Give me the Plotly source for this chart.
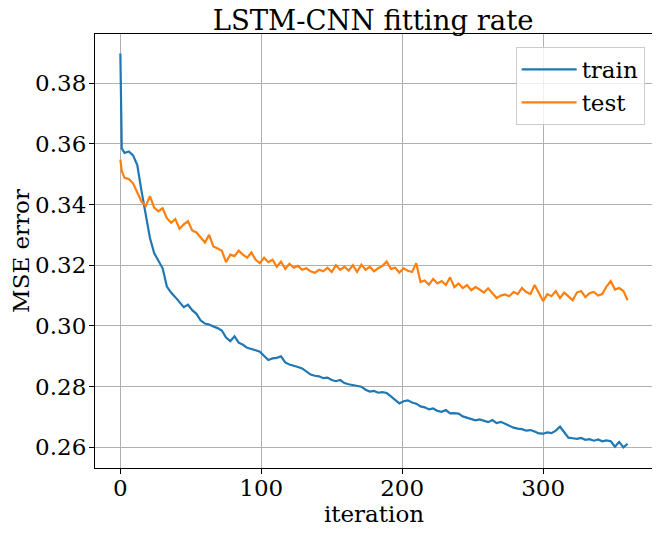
import plotly.graph_objects as go

# iterations sampled from the plot (first two kept for the initial drop)
iteration = [0, 1] + list(range(3, 361, 3))

train = [
    0.3898, 0.3585, 0.3570, 0.3575, 0.3562, 0.3530, 0.3445, 0.3362, 0.3290, 0.3240,
    0.3215, 0.3190, 0.3130, 0.3110, 0.3095, 0.3078, 0.3062, 0.3070, 0.3052, 0.3040,
    0.3018, 0.3008, 0.3005, 0.2998, 0.2993, 0.2985, 0.2962, 0.2950, 0.2966, 0.2945,
    0.2938, 0.2928, 0.2925, 0.2920, 0.2915, 0.2900, 0.2888, 0.2893, 0.2895, 0.2900,
    0.2880, 0.2873, 0.2870, 0.2865, 0.2860, 0.2850, 0.2840, 0.2836, 0.2834, 0.2828,
    0.2830, 0.2822, 0.2818, 0.2822, 0.2812, 0.2808, 0.2806, 0.2803, 0.2800, 0.2790,
    0.2784, 0.2786, 0.2780, 0.2782, 0.2779, 0.2768, 0.2758, 0.2745, 0.2752, 0.2755,
    0.2748, 0.2744, 0.2735, 0.2732, 0.2725, 0.2728, 0.2720, 0.2717, 0.2723, 0.2712,
    0.2713, 0.2711, 0.2702, 0.2698, 0.2693, 0.2689, 0.2692, 0.2688, 0.2683, 0.2690,
    0.2680, 0.2684, 0.2678, 0.2670, 0.2665, 0.2662, 0.2660, 0.2655, 0.2657, 0.2652,
    0.2646, 0.2645, 0.2649, 0.2647, 0.2655, 0.2668, 0.2650, 0.2632, 0.2630, 0.2628,
    0.2631, 0.2625, 0.2627, 0.2622, 0.2626, 0.2620, 0.2623, 0.2620, 0.2602, 0.2618,
    0.2600, 0.2612,
]

test = [
    0.3548, 0.3510, 0.3488, 0.3484, 0.3470, 0.3440, 0.3410, 0.3395, 0.3428, 0.3390,
    0.3378, 0.3388, 0.3355, 0.3340, 0.3352, 0.3320, 0.3335, 0.3345, 0.3315, 0.3308,
    0.3290, 0.3275, 0.3300, 0.3262, 0.3255, 0.3248, 0.3210, 0.3235, 0.3230, 0.3248,
    0.3235, 0.3225, 0.3242, 0.3218, 0.3207, 0.3225, 0.3210, 0.3218, 0.3195, 0.3212,
    0.3188, 0.3205, 0.3192, 0.3198, 0.3185, 0.3190, 0.3180, 0.3175, 0.3185, 0.3180,
    0.3192, 0.3178, 0.3200, 0.3185, 0.3195, 0.3182, 0.3200, 0.3178, 0.3202, 0.3185,
    0.3195, 0.3180, 0.3190, 0.3198, 0.3212, 0.3188, 0.3192, 0.3176, 0.3190, 0.3182,
    0.3178, 0.3207, 0.3145, 0.3150, 0.3136, 0.3155, 0.3140, 0.3148, 0.3135, 0.3160,
    0.3128, 0.3140, 0.3125, 0.3135, 0.3118, 0.3128, 0.3120, 0.3110, 0.3124, 0.3108,
    0.3092, 0.3100, 0.3104, 0.3098, 0.3112, 0.3105, 0.3125, 0.3112, 0.3105, 0.3135,
    0.3110, 0.3082, 0.3105, 0.3098, 0.3115, 0.3092, 0.3110, 0.3096, 0.3085, 0.3110,
    0.3115, 0.3095, 0.3108, 0.3112, 0.3100, 0.3105, 0.3130, 0.3148, 0.3120, 0.3125,
    0.3115, 0.3085,
]

xticks = [0, 100, 200, 300]
yticks = [0.26, 0.28, 0.30, 0.32, 0.34, 0.36, 0.38]

font = "DejaVu Serif"

fig = go.Figure()
fig.add_trace(go.Scatter(x=iteration, y=train, mode="lines", name="train",
                         line=dict(color="#1f77b4", width=2.2)))
fig.add_trace(go.Scatter(x=iteration, y=test, mode="lines", name="test",
                         line=dict(color="#ff7f0e", width=2.2)))

axis_style = dict(
    showline=True, linecolor="black", linewidth=1.2, mirror=True,
    ticks="outside", ticklen=5, tickcolor="black", tickwidth=1,
    showgrid=True, gridcolor="#b0b0b0", gridwidth=1, zeroline=False,
    tickfont=dict(family=font, size=23, color="black"),
)

fig.update_xaxes(range=[-18, 378], tickvals=xticks, ticklabelstandoff=-6,
                 title=dict(text="iteration", font=dict(family=font, size=23, color="black"), standoff=0),
                 **axis_style)
fig.update_yaxes(range=[0.2532, 0.3962], tickvals=yticks, tickformat=".2f", ticklabelstandoff=-2,
                 title=dict(text="MSE error", font=dict(family=font, size=23, color="black"), standoff=2),
                 **axis_style)

# page body adds an 8px margin, so the figure is drawn a little smaller
fig.update_layout(
    width=652, height=525,
    margin=dict(l=87, r=7, t=26, b=65),
    paper_bgcolor="white", plot_bgcolor="white",
    title=dict(text="LSTM-CNN fitting rate", x=0.56, xanchor="center", y=0.976, yanchor="middle",
               font=dict(family=font, size=27.5, color="black")),
    legend=dict(x=0.985, y=0.97, xanchor="right", yanchor="top", itemwidth=55,
                bgcolor="rgba(255,255,255,0.8)", bordercolor="#cccccc", borderwidth=1,
                font=dict(family=font, size=23, color="black")),
    showlegend=True,
)

fig.write_html("out.html")
